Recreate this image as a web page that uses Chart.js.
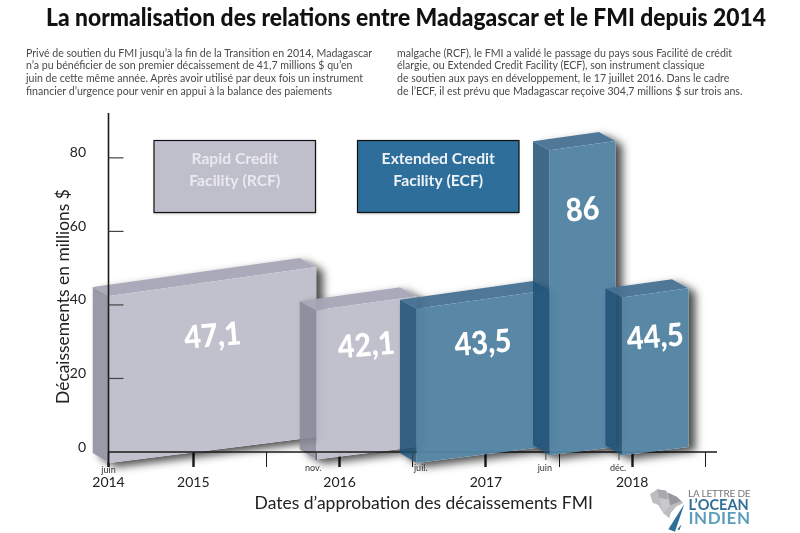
<!DOCTYPE html>
<html lang="fr"><head><meta charset="utf-8">
<script src="https://cdn.jsdelivr.net/npm/chart.js@4"></script>
<style>
html,body{margin:0;padding:0;background:#fff;width:800px;height:533px;overflow:hidden}
#c{position:absolute;left:0;top:0}
.t{position:absolute;white-space:nowrap;font-family:Lato,sans-serif;line-height:1}
h1{position:absolute;margin:0;left:46px;top:1px;font:900 25px/30px Lato,sans-serif;color:#111;white-space:nowrap;transform-origin:0 0}
.p{font-size:10.6px;line-height:12.9px;color:#4a4a4a;top:46.5px}
#logo{position:absolute;left:640px;top:480px}
</style></head><body>
<canvas id="c" width="800" height="533"></canvas>
<h1 id="title"></h1>
<div class="t p" style="left:26px" id="p1"></div>
<div class="t p" style="left:397px" id="p2"></div>
<svg id="logo" width="120" height="53" viewBox="0 0 360 159">
<polygon points="30,42 52,28 78,32 84,38 110,50 130,68 108,80 92,100 88,115 70,100 55,75 38,68" fill="#bdbdc0"/>
<polygon points="52,28 78,32 84,58 58,55" fill="#a9a9ad"/>
<polygon points="84,38 110,50 124,64 90,76" fill="#98989d"/>
<polygon points="58,55 84,58 90,76 70,100" fill="#c9c9cc"/>
<polygon points="133,72 105,155 85,148" fill="#2f6f97"/>
<polygon points="125,133 118,151 112,148" fill="#2f6f97"/>
</svg>
<div class="t" id="l1" style="left:688px;top:488px;font-size:10px;color:#77777c;letter-spacing:-.2px">LA LETTRE DE</div>
<div class="t" id="l2" style="left:688.5px;top:497.5px;font-size:14.5px;font-weight:700;color:#2f6f97">L’OCEAN</div>
<div class="t" id="l3" style="left:688.5px;top:508.5px;font-size:17px;font-weight:700;color:#5c9dbb;letter-spacing:.5px">INDIEN</div>
<script>
const titleText = "La normalisation des relations entre Madagascar et le FMI depuis 2014";
const paragraphLeft = [
 "Privé de soutien du FMI jusqu’à la fin de la Transition en 2014, Madagascar",
 "n’a pu bénéficier de son premier décaissement de 41,7 millions $ qu’en",
 "juin de cette même année. Après avoir utilisé par deux fois un instrument",
 "financier d’urgence pour venir en appui à la balance des paiements"];
const paragraphRight = [
 "malgache (RCF), le FMI a validé le passage du pays sous Facilité de crédit",
 "élargie, ou Extended Credit Facility (ECF), son instrument classique",
 "de soutien aux pays en développement, le 17 juillet 2016. Dans le cadre",
 "de l’ECF, il est prévu que Madagascar reçoive 304,7 millions $ sur trois ans."];

// Data: approval dates (decimal years) and disbursements (millions $)
const rcfStart  = [2014.425, 2015.84];
const rcfEnd    = [2015.84, 2016.525];
const rcfValues = [47.1, 42.1];
const ecfStart  = [2016.525, 2017.435, 2017.93];
const ecfEnd    = [2017.435, 2017.886, 2018.385];
const ecfValues = [43.5, 86, 44.5];

const yTicks = [0, 20, 40, 60, 80];
const xTicks = [2014.42, 2015, 2015.5, 2016, 2016.5, 2017, 2017.5, 2018, 2018.5];
const xTickLabels = ["2014", "2015", "", "2016", "", "2017", "", "2018", ""];
const eventDates  = [2014.42, 2015.84, 2016.5, 2017.41, 2017.91];
const eventLabels = ["juin", "nov.", "juil.", "juin", "déc."];
const legendNames = [["Rapid Credit","Facility (RCF)"],["Extended Credit","Facility (ECF)"]];

const h1 = document.getElementById('title');
h1.textContent = titleText;
h1.style.transform = 'scaleX(' + (720 / h1.getBoundingClientRect().width) + ')';
document.getElementById('p1').innerHTML = paragraphLeft.join('<br>');
document.getElementById('p2').innerHTML = paragraphRight.join('<br>');

// Style
const FONT = 'Lato, sans-serif';
const AXIS = '#1a1a1a';
const PERSPECTIVE = { depthX: 16.5, depthY: 9, topSlope: 0.14, bottomSlope: 0.126, drop: 11, hRatio: 0.965 };
const STYLES = [
 { front:'rgba(190,190,204,0.96)', wall:'rgba(135,135,152,0.85)', top:'rgba(165,165,182,0.95)' },
 { front:'rgba(84,131,163,0.97)',  wall:'rgba(30,80,118,0.85)',   top:'rgba(68,112,146,0.95)' }
];
const LEGEND_BOXES = [
 { x:154, y:140.5, w:161.5, h:72, fill:'#bfbfcc', text:'#e9e9ef' },
 { x:357.5, y:140.5, w:161.5, h:72, fill:'#2e6e9a', text:'#eef3f7' }
];

function poly(ctx, pts){ ctx.beginPath(); pts.forEach((p,i)=> i?ctx.lineTo(p[0],p[1]):ctx.moveTo(p[0],p[1])); ctx.closePath(); }

function drawSkewBar(ctx, chart, el, raw, style){
  const P = PERSPECTIVE, sx = chart.scales.x;
  const x0 = sx.getPixelForValue(raw.x), x1 = sx.getPixelForValue(raw.end), w = x1 - x0;
  const h = (el.base - el.y) * P.hRatio;
  const bl = el.base + Math.min(P.drop, w * P.bottomSlope - 5);
  const br = bl - w * P.bottomSlope;
  const tl = bl - h, tr = tl - w * P.topSlope;
  const dx = P.depthX, dy = P.depthY;
  const outline = [[x0,bl],[x1,br],[x1,tr],[x1-dx,tr-dy],[x0-dx,tl-dy],[x0-dx,bl-dy-1]];
  // soft cast shadow, kept outside the translucent body
  ctx.save();
  poly(ctx, outline);
  ctx.rect(0,0,chart.width,chart.height);
  ctx.clip('evenodd');
  ctx.shadowColor='rgba(0,0,0,0.7)'; ctx.shadowBlur=9; ctx.shadowOffsetX=7+2000; ctx.shadowOffsetY=4;
  ctx.fillStyle='#000';
  ctx.translate(-2000,0);
  poly(ctx, outline); ctx.fill();
  ctx.restore();
  // faces
  ctx.fillStyle=style.top;  poly(ctx,[[x0,tl],[x1,tr],[x1-dx,tr-dy],[x0-dx,tl-dy]]); ctx.fill();
  ctx.fillStyle=style.front;poly(ctx,[[x0,bl],[x1,br],[x1,tr],[x0,tl]]); ctx.fill();
  ctx.fillStyle=style.wall; poly(ctx,[[x0,bl],[x0,tl],[x0-dx,tl-dy],[x0-dx,bl-dy-1]]); ctx.fill();
  // value label
  const frac = h > 200 ? 0.79 : (w > 150 ? 0.68 : 0.72);
  const cx = (x0+x1)/2, cy = (bl+br)/2 - h*frac;
  ctx.save();
  ctx.translate(cx,cy); ctx.rotate(-5*Math.PI/180); ctx.scale(0.9,1);
  ctx.fillStyle='#fff'; ctx.font='900 32px '+FONT; ctx.textAlign='center'; ctx.textBaseline='middle';
  ctx.fillText(String(raw.y).replace('.',','),0,0);
  ctx.restore();
}

const skewBars = {
  id:'skewBars',
  beforeDatasetsDraw(chart){
    chart.data.datasets.forEach((ds,di)=>{
      chart.getDatasetMeta(di).data.forEach((el,i)=>{
        el.draw = ctx => drawSkewBar(ctx, chart, el, ds.data[i], STYLES[di]);
      });
    });
  }
};

function line(ctx,x0,y0,x1,y1,color,width){ ctx.strokeStyle=color; ctx.lineWidth=width; ctx.beginPath(); ctx.moveTo(x0,y0); ctx.lineTo(x1,y1); ctx.stroke(); }

const axisOverlay = {
  id:'axisOverlay',
  afterDatasetDraw(chart,args){
    if(args.meta.index!==0) return;            // the axis lies above the RCF bars, beneath the ECF ones
    const {y}=chart.scales, ctx=chart.ctx, a=chart.chartArea;
    ctx.save();
    line(ctx,a.left,a.top,a.left,a.bottom+14,AXIS,1.6);
    line(ctx,a.left,a.bottom,a.right,a.bottom,AXIS,1.3);
    y.ticks.forEach(t=>{ if(t.value>0){const p=y.getPixelForValue(t.value); line(ctx,a.left,p,a.left+15,p,'#444',1.2);} });
    ctx.restore();
  },
  afterDatasetsDraw(chart){
    const {x}=chart.scales, ctx=chart.ctx, a=chart.chartArea;
    ctx.save();
    // event ticks and month labels
    const labelDx=[0,-3,8,-1,-1];
    eventDates.forEach((d,i)=>{
      const p=x.getPixelForValue(d);
      if(i>0) line(ctx,p,a.bottom,p,a.bottom+8,'#444',1);
      ctx.fillStyle='#333'; ctx.font='9px '+FONT; ctx.textAlign='center'; ctx.textBaseline='middle';
      ctx.fillText(eventLabels[i],p+labelDx[i],a.bottom+(i?16:18));
    });
    // legend boxes
    LEGEND_BOXES.forEach((b,i)=>{
      ctx.save();
      ctx.shadowColor='rgba(0,0,0,.25)'; ctx.shadowBlur=2; ctx.shadowOffsetY=1;
      ctx.fillStyle=b.fill; ctx.fillRect(b.x,b.y,b.w,b.h);
      ctx.restore();
      ctx.strokeStyle='#111'; ctx.lineWidth=1.2; ctx.strokeRect(b.x,b.y,b.w,b.h);
      ctx.fillStyle=b.text; ctx.font='700 15.7px '+FONT; ctx.textAlign='center'; ctx.textBaseline='middle';
      legendNames[i].forEach((s,j)=>ctx.fillText(s,b.x+b.w/2,b.y+18+j*22));
    });
    ctx.restore();
  }
};

function nudgeTitle(scale,dx,dy){
  if(scale._nudged) return; scale._nudged=true;
  const orig=scale.drawTitle;
  scale.drawTitle=function(){ const c=this.ctx; c.save(); c.translate(dx,dy); orig.call(this); c.restore(); };
}

new Chart(document.getElementById('c'),{
  type:'bar',
  data:{datasets:[
    {label:'Rapid Credit Facility (RCF)', order:2, data:rcfStart.map((s,i)=>({x:s,end:rcfEnd[i],y:rcfValues[i]})), backgroundColor:'#bebecc', grouped:false, clip:false},
    {label:'Extended Credit Facility (ECF)', order:1, data:ecfStart.map((s,i)=>({x:s,end:ecfEnd[i],y:ecfValues[i]})), backgroundColor:'#5483a3', grouped:false, clip:false}
  ]},
  options:{
    responsive:false, animation:false, devicePixelRatio:1,
    layout:{padding:{left:0,right:83,top:113,bottom:0}},
    plugins:{legend:{display:false},tooltip:{enabled:false}},
    scales:{
      x:{type:'linear',min:2014.42,max:2018.58,offset:false,
        afterBuildTicks(s){ s.ticks=xTicks.map(v=>({value:v})); },
        afterFit(s){ s.height=81; nudgeTitle(s,11,0); },
        grid:{offset:false,drawOnChartArea:false,tickLength:15,
          tickWidth:c=>c.tick&&(Number.isInteger(c.tick.value)||c.tick.value<2015)?2.4:1,
          tickColor:'#1a1a1a'},
        border:{display:false},
        ticks:{autoSkip:false,maxRotation:0,minRotation:0,padding:7,color:'#222',font:{family:FONT,size:14},
          callback(v){ const i=xTicks.indexOf(v); return i<0?'':xTickLabels[i]; }},
        title:{display:true,text:'Dates d’approbation des décaissements FMI',color:'#222',font:{family:FONT,size:17.5},padding:{top:0,bottom:19}}
      },
      y:{type:'linear',min:0,max:92.2,
        afterBuildTicks(s){ s.ticks=yTicks.map(v=>({value:v})); },
        afterFit(s){ s.width=108.5; nudgeTitle(s,0,14); },
        grid:{display:false},
        border:{display:false},
        ticks:{padding:14.5,labelOffset:-5,color:'#222',font:{family:FONT,size:14}},
        title:{display:true,text:'Décaissements en millions $',color:'#222',font:{family:FONT,size:17.4},padding:{top:53,bottom:0}}
      }
    }
  },
  plugins:[skewBars,axisOverlay]
});
</script>
</body></html>
